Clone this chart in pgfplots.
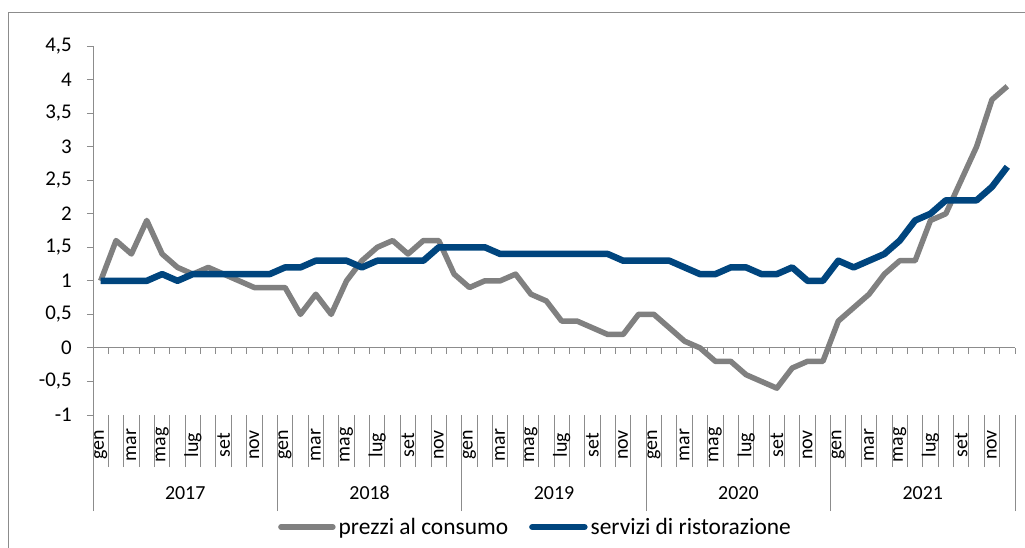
\documentclass[border=0pt]{standalone}
\usepackage{fontspec}
\setmainfont{Carlito}
\usepackage{pgfplots}
\usepackage{pgfplotstable}
\pgfplotsset{compat=1.18}
\definecolor{cgray}{HTML}{808080}
\definecolor{cblue}{HTML}{00457E}
\definecolor{caxis}{HTML}{8C8C8C}

% month index (0 = gen 2017 ... 59 = dic 2021)
\pgfplotstableread{
x y
0 1.0
1 1.6
2 1.4
3 1.9
4 1.4
5 1.2
6 1.1
7 1.2
8 1.1
9 1.0
10 0.9
11 0.9
12 0.9
13 0.5
14 0.8
15 0.5
16 1.0
17 1.3
18 1.5
19 1.6
20 1.4
21 1.6
22 1.6
23 1.1
24 0.9
25 1.0
26 1.0
27 1.1
28 0.8
29 0.7
30 0.4
31 0.4
32 0.3
33 0.2
34 0.2
35 0.5
36 0.5
37 0.3
38 0.1
39 0.0
40 -0.2
41 -0.2
42 -0.4
43 -0.5
44 -0.6
45 -0.3
46 -0.2
47 -0.2
48 0.4
49 0.6
50 0.8
51 1.1
52 1.3
53 1.3
54 1.9
55 2.0
56 2.5
57 3.0
58 3.7
59 3.9
}\prezzi

\pgfplotstableread{
x y
0 1.0
1 1.0
2 1.0
3 1.0
4 1.1
5 1.0
6 1.1
7 1.1
8 1.1
9 1.1
10 1.1
11 1.1
12 1.2
13 1.2
14 1.3
15 1.3
16 1.3
17 1.2
18 1.3
19 1.3
20 1.3
21 1.3
22 1.5
23 1.5
24 1.5
25 1.5
26 1.4
27 1.4
28 1.4
29 1.4
30 1.4
31 1.4
32 1.4
33 1.4
34 1.3
35 1.3
36 1.3
37 1.3
38 1.2
39 1.1
40 1.1
41 1.2
42 1.2
43 1.1
44 1.1
45 1.2
46 1.0
47 1.0
48 1.3
49 1.2
50 1.3
51 1.4
52 1.6
53 1.9
54 2.0
55 2.2
56 2.2
57 2.2
58 2.4
59 2.7
}\ristorazione

\pgfplotsset{
  base/.style={
    width=922bp, height=369bp, scale only axis,
    at={(93bp,133bp)}, anchor=south west,
    xmin=-0.5, xmax=59.5, ymin=-1, ymax=4.5,
    clip=false,
    tick label style={font=\fontsize{20}{24}\selectfont, text=black},
    /pgf/number format/assume math mode=true,
  }
}

\begin{document}
\begin{tikzpicture}
\draw[caxis, line width=1bp] (8.7bp,-20bp) -- (8.7bp,535bp) -- (1060bp,535bp);

% main data axis
\begin{axis}[base,
  axis y line=left, axis x line=middle,
  axis line style={draw=caxis, line width=1bp, -},
  tick style={draw=caxis, line width=1bp},
  tick align=outside,
  major tick length=6bp,
  ytick={-1,-0.5,0,0.5,1,1.5,2,2.5,3,3.5,4,4.5},
  yticklabel style={/pgf/number format/use comma, /pgf/number format/fixed, /pgf/number format/precision=1, anchor=east, inner sep=0pt, xshift=-15bp, font=\fontsize{21}{25}\selectfont},
  xtick={-0.5,0.5,...,59.5},
  xticklabels={},
  legend style={at={(axis description cs:0.4805,-0.3035)}, anchor=center,
    draw=none, fill=none, legend columns=2,
    font=\fontsize{23.5}{28}\selectfont,
    nodes={inner xsep=3bp},
    /tikz/every even column/.append style={column sep=18bp}},
  legend image code/.code={\draw[#1, line cap=round] (0bp,0bp) -- (52bp,0bp);},
]
\addplot[cgray, line width=5.5bp, line join=round] table[x=x,y=y] {\prezzi};
\addlegendentry{prezzi al consumo}
\addplot[cblue, line width=6.5bp, line join=round] table[x=x,y=y] {\ristorazione};
\addlegendentry{servizi di ristorazione}
\end{axis}

% month labels and separators
\begin{axis}[base,
  axis x line*=bottom, axis y line=none,
  x axis line style={draw=none},
  ytick=\empty,
  tick align=outside,
  xtick={0,2,...,58},
  xticklabels={gen,mar,mag,lug,set,nov,gen,mar,mag,lug,set,nov,gen,mar,mag,lug,set,nov,gen,mar,mag,lug,set,nov,gen,mar,mag,lug,set,nov},
  major tick length=0pt,
  minor xtick={-0.5,0.5,...,59.5},
  minor tick length=52bp,
  minor tick style={draw=caxis, line width=1bp},
  xticklabel style={rotate=90, anchor=center, xshift=-30bp},
]
\addplot[draw=none, forget plot] coordinates {(0,0)};
\end{axis}

% year labels and separators
\begin{axis}[base,
  axis x line*=bottom, axis y line=none,
  x axis line style={draw=none},
  ytick=\empty,
  tick align=outside,
  xtick={5.5,17.5,29.5,41.5,53.5},
  xticklabels={2017,2018,2019,2020,2021},
  major tick length=0pt,
  xticklabel style={anchor=center, yshift=-78bp},
  extra x ticks={-0.5,11.5,23.5,35.5,47.5,59.5},
  extra x tick labels={},
  extra x tick style={major tick length=96bp, tick style={draw=caxis, line width=1bp}},
]
\addplot[draw=none, forget plot] coordinates {(0,0)};
\end{axis}
\pgfresetboundingbox
\path[use as bounding box] (0bp,0bp) rectangle (1025bp,548bp);
\end{tikzpicture}
\end{document}
